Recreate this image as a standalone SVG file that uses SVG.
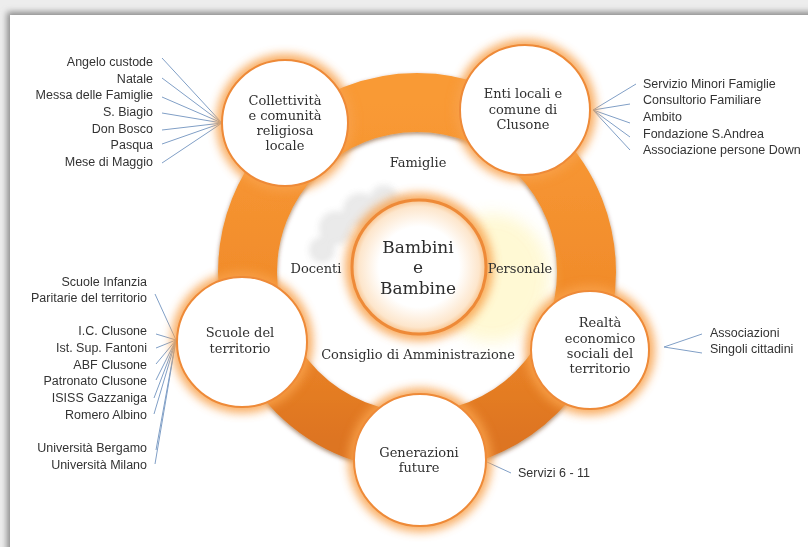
<svg xmlns="http://www.w3.org/2000/svg" width="808" height="547" viewBox="0 0 808 547">
<defs>
  <filter id="blur5" x="-40%" y="-40%" width="180%" height="180%"><feGaussianBlur stdDeviation="5"/></filter>
  <filter id="blur3" x="-10%" y="-10%" width="120%" height="120%"><feGaussianBlur stdDeviation="3"/></filter>
  <filter id="blur8" x="-50%" y="-50%" width="200%" height="200%"><feGaussianBlur stdDeviation="8"/></filter>
  <filter id="ringshadow" x="-20%" y="-20%" width="140%" height="140%">
    <feDropShadow dx="0" dy="2" stdDeviation="2" flood-color="#6b3300" flood-opacity="0.55"/>
  </filter>
  <linearGradient id="ringGrad" x1="0" y1="0" x2="0" y2="1">
    <stop offset="0" stop-color="#F99A35"/>
    <stop offset="0.6" stop-color="#F08A2A"/>
    <stop offset="1" stop-color="#DD7420"/>
  </linearGradient>
  <radialGradient id="coreGrad" cx="0.5" cy="0.5" r="0.5">
    <stop offset="0.6" stop-color="#FFFFFF"/>
    <stop offset="0.9" stop-color="#FDE6CC"/>
    <stop offset="1" stop-color="#F9C48E"/>
  </radialGradient>
  <style>
    .halo { fill: #F8A04A; opacity: 0.85; filter: url(#blur5); }
    .node { fill: #FFFFFF; stroke: #EE8A38; stroke-width: 2; }
    .nt { font-family: "DejaVu Serif", "Liberation Serif", serif; font-size: 13px; fill: #303030; text-anchor: middle; }
    .big { font-family: "DejaVu Serif", "Liberation Serif", serif; font-size: 17px; fill: #2e2e2e; text-anchor: middle; }
    .lab { font-family: "Liberation Sans", Arial, sans-serif; font-size: 12.5px; fill: #333333; }
    .end { text-anchor: end; }
    .conn line { stroke: #809FC6; stroke-width: 1; }
  </style>
</defs>

<!-- page and shadow -->
<rect x="0" y="0" width="808" height="547" fill="#EDEDED"/>
<rect x="7" y="12" width="820" height="560" fill="#8A8A8A" filter="url(#blur3)"/>
<rect x="10" y="15" width="798" height="532" fill="#FFFFFF"/>

<!-- ring -->
<g id="ring">
  <circle cx="417" cy="272" r="169.5" fill="none" stroke="url(#ringGrad)" stroke-width="59" filter="url(#ringshadow)"/>
</g>

<!-- watermark decoration -->
<g id="watermark" opacity="0.9">
  <ellipse cx="492" cy="278" rx="58" ry="64" fill="#FFF2A8" opacity="0.55" filter="url(#blur8)"/>
  <g fill="#A8A8A8" opacity="0.28" filter="url(#blur3)">
    <circle cx="322" cy="250" r="13"/>
    <circle cx="336" cy="228" r="17"/>
    <circle cx="360" cy="210" r="17"/>
    <circle cx="384" cy="199" r="14"/>
    <circle cx="404" cy="206" r="9"/>
  </g>
</g>

<!-- connectors -->
<g id="connectors" class="conn">
  <line x1="162" y1="58" x2="222" y2="123"/>
  <line x1="162" y1="78" x2="222" y2="123"/>
  <line x1="162" y1="97" x2="222" y2="123"/>
  <line x1="162" y1="113" x2="222" y2="123"/>
  <line x1="162" y1="130" x2="222" y2="123"/>
  <line x1="162" y1="144" x2="222" y2="123"/>
  <line x1="162" y1="163" x2="222" y2="123"/>

  <line x1="593" y1="110" x2="636" y2="84"/>
  <line x1="593" y1="110" x2="630" y2="104"/>
  <line x1="593" y1="110" x2="630" y2="123"/>
  <line x1="593" y1="110" x2="630" y2="137"/>
  <line x1="593" y1="110" x2="630" y2="150"/>

  <line x1="155" y1="294" x2="176" y2="340"/>
  <line x1="156" y1="334" x2="176" y2="340"/>
  <line x1="156" y1="348" x2="176" y2="340"/>
  <line x1="156" y1="364" x2="176" y2="340"/>
  <line x1="156" y1="380" x2="176" y2="340"/>
  <line x1="154" y1="398" x2="176" y2="340"/>
  <line x1="154" y1="414" x2="176" y2="340"/>
  <line x1="156" y1="450" x2="176" y2="340"/>
  <line x1="155" y1="464" x2="176" y2="340"/>

  <line x1="664" y1="347" x2="702" y2="334"/>
  <line x1="664" y1="347" x2="702" y2="353"/>

  <line x1="487" y1="462" x2="511" y2="473"/>
</g>

<!-- center -->
<g id="bambini">
  <circle cx="419" cy="267" r="74" class="halo"/>
  <circle cx="419" cy="267" r="67" fill="url(#coreGrad)" stroke="#EE8A38" stroke-width="3"/>
  <text class="big" x="418" y="253">Bambini</text>
  <text class="big" x="418" y="273">e</text>
  <text class="big" x="418" y="294">Bambine</text>
</g>

<g id="inner-labels">
  <text class="nt" x="418" y="167" font-size="13.5">Famiglie</text>
  <text class="nt" x="316" y="273">Docenti</text>
  <text class="nt" x="520" y="273">Personale</text>
  <text class="nt" x="418" y="359" font-size="13.5">Consiglio di Amministrazione</text>
</g>

<g id="collettivita">
  <circle cx="285" cy="123" r="69" class="halo"/>
  <circle cx="285" cy="123" r="63" class="node"/>
  <text class="nt" x="285" y="105">Collettività</text>
  <text class="nt" x="285" y="120">e comunità</text>
  <text class="nt" x="285" y="135">religiosa</text>
  <text class="nt" x="285" y="150">locale</text>
</g>

<g id="enti">
  <circle cx="525" cy="110" r="71" class="halo"/>
  <circle cx="525" cy="110" r="65" class="node"/>
  <text class="nt" x="523" y="98">Enti locali e</text>
  <text class="nt" x="523" y="114">comune di</text>
  <text class="nt" x="523" y="129">Clusone</text>
</g>

<g id="scuole">
  <circle cx="242" cy="342" r="71" class="halo"/>
  <circle cx="242" cy="342" r="65" class="node"/>
  <text class="nt" x="240" y="337">Scuole del</text>
  <text class="nt" x="240" y="353">territorio</text>
</g>

<g id="realta">
  <circle cx="590" cy="350" r="65" class="halo"/>
  <circle cx="590" cy="350" r="59" class="node"/>
  <text class="nt" x="600" y="327">Realtà</text>
  <text class="nt" x="600" y="343">economico</text>
  <text class="nt" x="600" y="358">sociali del</text>
  <text class="nt" x="600" y="373">territorio</text>
</g>

<g id="generazioni">
  <circle cx="420" cy="460" r="72" class="halo"/>
  <circle cx="420" cy="460" r="66" class="node"/>
  <text class="nt" x="419" y="457">Generazioni</text>
  <text class="nt" x="419" y="472">future</text>
</g>

<!-- lists -->
<g id="list-collettivita">
  <text class="lab end" x="153" y="66">Angelo custode</text>
  <text class="lab end" x="153" y="83">Natale</text>
  <text class="lab end" x="153" y="99">Messa delle Famiglie</text>
  <text class="lab end" x="153" y="116">S. Biagio</text>
  <text class="lab end" x="153" y="133">Don Bosco</text>
  <text class="lab end" x="153" y="149">Pasqua</text>
  <text class="lab end" x="153" y="166">Mese di Maggio</text>
</g>

<g id="list-enti">
  <text class="lab" x="643" y="88">Servizio Minori Famiglie</text>
  <text class="lab" x="643" y="104">Consultorio Familiare</text>
  <text class="lab" x="643" y="121">Ambito</text>
  <text class="lab" x="643" y="138">Fondazione S.Andrea</text>
  <text class="lab" x="643" y="154">Associazione persone  Down</text>
</g>

<g id="list-scuole">
  <text class="lab end" x="147" y="286">Scuole Infanzia</text>
  <text class="lab end" x="147" y="302">Paritarie del territorio</text>
  <text class="lab end" x="147" y="335">I.C. Clusone</text>
  <text class="lab end" x="147" y="352">Ist. Sup.  Fantoni</text>
  <text class="lab end" x="147" y="369">ABF Clusone</text>
  <text class="lab end" x="147" y="385">Patronato Clusone</text>
  <text class="lab end" x="147" y="402">ISISS Gazzaniga</text>
  <text class="lab end" x="147" y="419">Romero Albino</text>
  <text class="lab end" x="147" y="452">Università Bergamo</text>
  <text class="lab end" x="147" y="469">Università Milano</text>
</g>

<g id="list-realta">
  <text class="lab" x="710" y="337">Associazioni</text>
  <text class="lab" x="710" y="353">Singoli cittadini</text>
</g>

<g id="list-generazioni">
  <text class="lab" x="518" y="477">Servizi 6 - 11</text>
</g>
</svg>
